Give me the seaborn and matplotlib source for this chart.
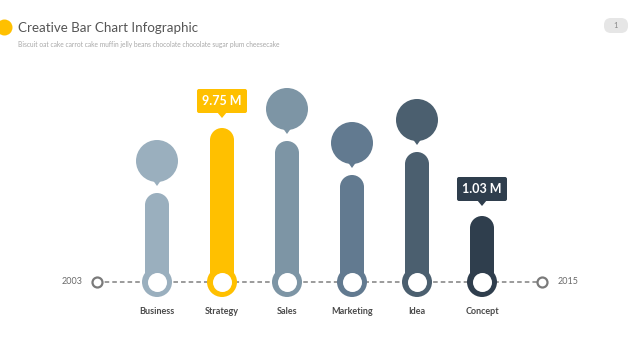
import matplotlib
matplotlib.use("Agg")
import matplotlib.pyplot as plt
from matplotlib.patches import Ellipse, Polygon, FancyBboxPatch
import seaborn as sns

# chart data
categories = ['Business', 'Strategy', 'Sales', 'Marketing', 'Idea', 'Concept']
heights = [89, 154, 141, 107, 130, 66]
bar_colors = ['#9aafbe', '#ffc000', '#7d95a5', '#627a90', '#4b5f6f', '#2f3e4d']
value_tags = {'Strategy': '9.75 M', 'Concept': '1.03 M'}
year_start = '2003'
year_end = '2015'

title = 'Creative Bar Chart Infographic'
subtitle = 'Biscuit oat cake carrot cake muffin jelly beans chocolate chocolate sugar plum cheesecake'

sns.set_theme(style='white')
plt.rcParams['font.family'] = ['Lato', 'DejaVu Sans']

fig = plt.figure(figsize=(6.4, 3.6), dpi=100)
fig.patch.set_facecolor('white')

# main axes: 1 x unit = 65 px, 1 y unit = 1 px, baseline at pixel row 282
ax = fig.add_axes([0, 0, 1, 1])
XS = 65.0
bar_w = 24

sns.barplot(x=categories, y=heights, hue=categories, palette=bar_colors,
            legend=False, width=bar_w / XS, saturation=1, linewidth=0,
            ax=ax, zorder=2)

ax.set_xlim(-157 / XS, (640 - 157) / XS)
ax.set_ylim(-78, 282)
ax.axis('off')

# overlay axes in pixel units (y down) for round shapes and tags
hx = fig.add_axes([0, 0, 1, 1], facecolor='none')
hx.set_xlim(0, 640)
hx.set_ylim(360, 0)
hx.axis('off')


def to_px(x, y):
    dx, dy = ax.transData.transform((x, y))
    return dx, 360 - dy


r_top = bar_w / 2
for i, p in enumerate(ax.patches):
    h = p.get_height()
    cx = p.get_x() + p.get_width() / 2
    col = p.get_facecolor()
    p.set_height(h - r_top)
    ax.add_patch(Ellipse((cx, h - r_top), bar_w / XS, 2 * r_top, color=col,
                         lw=0, zorder=2))

    px, top = to_px(cx, h)
    name = categories[i]
    if name in value_tags:
        # tag box with pointer
        bw, bh = 50, 24
        bbot = top - 15
        hx.add_patch(FancyBboxPatch((px - bw / 2 + 2, bbot - bh + 2),
                                    bw - 4, bh - 4,
                                    boxstyle='round,pad=2,rounding_size=2',
                                    color=col, lw=0, zorder=3))
        hx.add_patch(Polygon([(px - 5, bbot - 1), (px + 5, bbot - 1),
                              (px, top - 10)], closed=True, color=col, lw=0,
                             zorder=3))
        hx.text(px, bbot - bh / 2, value_tags[name], ha='center',
                va='center', color='white', fontsize=9, fontweight='bold',
                zorder=4)
    else:
        # speech bubble
        rb = 21
        cy = top - 32
        hx.add_patch(Ellipse((px, cy), 2 * rb, 2 * rb, color=col, lw=0,
                             zorder=2))
        hx.add_patch(Polygon([(px - 5, cy + rb - 3), (px + 5, cy + rb - 3),
                              (px, top - 7)], closed=True, color=col, lw=0,
                             zorder=2))

    ax.text(cx, -29, name, ha='center', va='center', fontsize=6.5,
            fontweight='bold', color='#4a4a4a')

xs = list(range(len(categories)))
# timeline
x0, x1 = (97 - 157) / XS, (542 - 157) / XS
ax.plot([x0, x1], [0, 0], ls=(0, (3, 2)), color='#808080', lw=1.1, zorder=1)
ax.scatter([x0, x1], [0, 0], s=(10 * 0.72) ** 2, facecolor='white',
           edgecolor='#7a7a7a', linewidth=1.6, zorder=3)
ax.text((72 - 157) / XS, 0, year_start, ha='center', va='center',
        fontsize=6.5, color='#6a6a6a')
ax.text((568 - 157) / XS, 0, year_end, ha='center', va='center',
        fontsize=6.5, color='#6a6a6a')

# base rings
ax.scatter(xs, [0] * len(xs), s=(30 * 0.72) ** 2, c=bar_colors, lw=0,
           zorder=4)
ax.scatter(xs, [0] * len(xs), s=(19 * 0.72) ** 2, c='white', lw=0, zorder=5)

# header
hx.add_patch(Ellipse((4.5, 27.5), 16, 16, color='#ffc000', lw=0))
hx.text(18, 28, title, ha='left', va='center', fontsize=9.6, color='#555555')
hx.text(18, 45, subtitle, ha='left', va='center', fontsize=4.75,
        color='#a8a8a8')
hx.add_patch(FancyBboxPatch((607, 21), 18, 9,
                            boxstyle='round,pad=3,rounding_size=7',
                            color='#e6e6e6', lw=0))
hx.text(616, 26, '1', ha='center', va='center', fontsize=5.5,
        color='#888888')

fig.savefig('out.png', dpi=100)
